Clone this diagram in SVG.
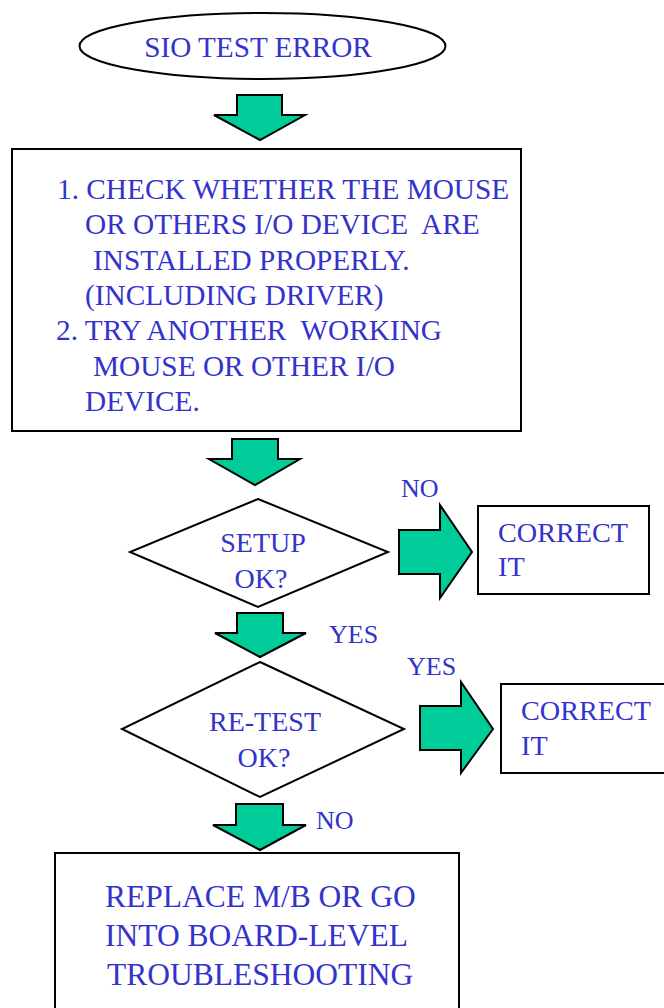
<svg xmlns="http://www.w3.org/2000/svg" width="664" height="1008" viewBox="0 0 664 1008">
<style>
.t{font-family:"Liberation Serif","Times New Roman",serif;fill:#3333CC;white-space:pre}
.shape{fill:#FFFFFF;stroke:#000000;stroke-width:2}
.arr{fill:#00CC99;stroke:#000000;stroke-width:2;stroke-linejoin:miter}
</style>
<rect width="664" height="1008" fill="#FFFFFF"/>
<g id="start">
<ellipse class="shape" cx="262.5" cy="46" rx="183" ry="33" stroke-width="1.5"/>
<text class="t" x="258" y="57" font-size="29.2" text-anchor="middle">SIO TEST ERROR</text>
</g>
<g id="check">
<rect class="shape" x="12" y="149" width="509" height="282"/>
<text class="t" font-size="29.3" xml:space="preserve"><tspan x="57" y="199">1. CHECK WHETHER THE MOUSE</tspan><tspan x="85" y="234">OR OTHERS I/O DEVICE  ARE</tspan><tspan x="93" y="270">INSTALLED PROPERLY.</tspan><tspan x="85" y="305">(INCLUDING DRIVER)</tspan><tspan x="56" y="340">2. TRY ANOTHER  WORKING</tspan><tspan x="93" y="376">MOUSE OR OTHER I/O</tspan><tspan x="85" y="411">DEVICE.</tspan></text>
</g>
<g id="setup">
<polygon class="shape" points="258,499 388,552 258,607 130,552" stroke-width="1.5"/>
<text class="t" font-size="28" text-anchor="middle"><tspan x="263" y="552">SETUP</tspan><tspan x="261" y="588">OK?</tspan></text>
</g>
<g id="correct1">
<rect class="shape" x="478" y="506" width="171" height="88"/>
<text class="t" font-size="28.2"><tspan x="498" y="542">CORRECT</tspan><tspan x="498" y="576">IT</tspan></text>
</g>
<g id="retest">
<polygon class="shape" points="260,662 404,729 260,797 122,729" stroke-width="1.5"/>
<text class="t" font-size="28" text-anchor="middle"><tspan x="265" y="731">RE-TEST</tspan><tspan x="264" y="767">OK?</tspan></text>
</g>
<g id="correct2">
<rect class="shape" x="501" y="684" width="175" height="89"/>
<text class="t" font-size="28.2"><tspan x="521" y="720">CORRECT</tspan><tspan x="521" y="755">IT</tspan></text>
</g>
<g id="replace">
<rect class="shape" x="55" y="853" width="404" height="170"/>
<text class="t" font-size="31.5"><tspan x="105" y="907">REPLACE M/B OR GO</tspan><tspan x="105" y="946">INTO BOARD-LEVEL</tspan><tspan x="107" y="985">TROUBLESHOOTING</tspan></text>
</g>
<g id="connectors">
<polygon class="arr" points="237,95 282,95 282,115 305,115 260,140 214,115 237,115"/>
<polygon class="arr" points="232,439 278,439 278,459 300,459 255,485 209,459 232,459"/>
<polygon class="arr" points="237,613 283,613 283,633 306,633 260,657 215,633 237,633"/>
<polygon class="arr" points="236,804 283,804 283,825 306,825 260,850 213,825 236,825"/>
<polygon class="arr" points="399,530 440,530 440,505 472,552 440,598 440,574 399,574"/>
<polygon class="arr" points="420,706 461,706 461,682 493,729 461,773 461,750 420,750"/>
<text class="t" x="401" y="497" font-size="26">NO</text>
<text class="t" x="329" y="643" font-size="26">YES</text>
<text class="t" x="407" y="675" font-size="26">YES</text>
<text class="t" x="316" y="829" font-size="26">NO</text>
</g>
</svg>
